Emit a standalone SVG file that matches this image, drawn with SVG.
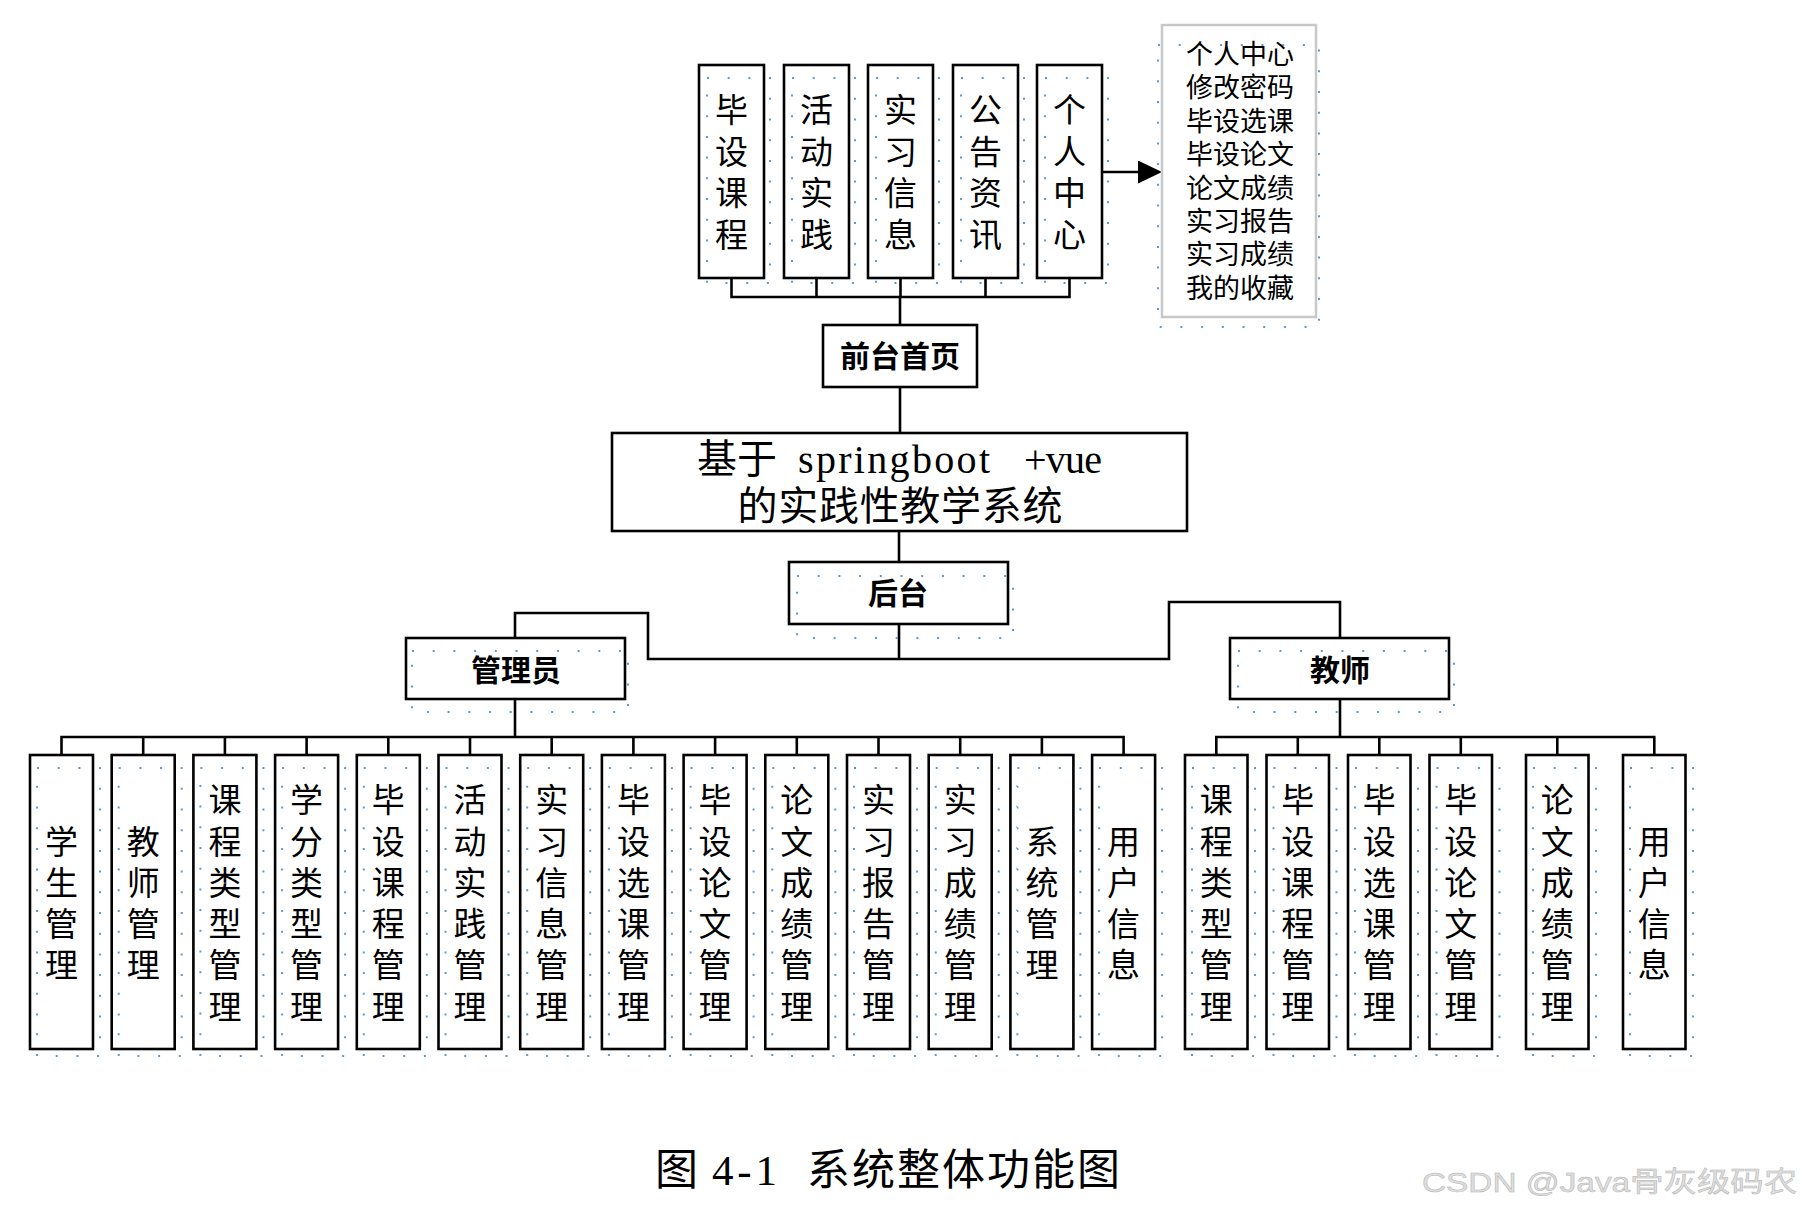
<svg xmlns="http://www.w3.org/2000/svg" width="1802" height="1220" viewBox="0 0 1802 1220">
<style>
.box{fill:#fff;stroke:#000;stroke-width:2.6}
.gbox{fill:#fff;stroke:#c8c8c8;stroke-width:2.5}
.dots{fill:none;stroke:#5b9bd5;stroke-width:2;stroke-dasharray:2 18.7}
.ln{fill:none;stroke:#000;stroke-width:2.6}
.v{font-family:"Liberation Sans","Noto Sans CJK SC",sans-serif;font-size:33px;fill:#000;text-anchor:middle;dominant-baseline:central}
.lst{font-family:"Liberation Sans","Noto Sans CJK SC",sans-serif;font-size:27px;fill:#000;text-anchor:middle;dominant-baseline:central}
.b{font-family:"Liberation Sans","Noto Sans CJK SC",sans-serif;font-size:30px;font-weight:bold;fill:#000;text-anchor:middle;dominant-baseline:central}
.main{font-family:"Liberation Serif","Noto Sans CJK SC",serif;font-size:40px;fill:#000}
.cap{font-family:"Liberation Serif","Noto Sans CJK SC",serif;font-size:43px;fill:#000;dominant-baseline:central}
.wm{font-family:"Liberation Sans","Noto Sans CJK SC",sans-serif;font-size:28px;fill:#dedede;stroke:#b4b4b4;stroke-width:0.5;dominant-baseline:central}
</style>
<defs>
<marker id="arr" viewBox="0 0 24 23" refX="0" refY="11.5" markerWidth="24" markerHeight="23" markerUnits="userSpaceOnUse" orient="auto">
<path d="M0,0 L24,11.5 L0,23 Z" fill="#000"/>
</marker>
</defs>
<rect width="1802" height="1220" fill="#fff"/>

<g id="connectors">
<path class="ln" d="M731.5,278V297M816.5,278V297M900.5,278V297M985.5,278V297M1069.5,278V297M730.2,297H1070.8"/>
<path class="ln" d="M900,297V325M900,387V433M899,531V562M899,624V659"/>
<path class="ln" d="M515,638V613H648V659H1169V602H1340V638"/>
<path class="ln" d="M515,699V737M1340,699V737"/>
<path class="ln" d="M60.2,737H1124.9M61.5,737V755M143.2,737V755M224.9,737V755M306.6,737V755M388.3,737V755M470,737V755M551.7,737V755M633.4,737V755M715.1,737V755M796.8,737V755M878.5,737V755M960.2,737V755M1041.9,737V755M1123.6,737V755"/>
<path class="ln" d="M1215,737H1655.5M1216.3,737V755M1297.8,737V755M1379.3,737V755M1460.8,737V755M1557.3,737V755M1654.3,737V755"/>
<line class="ln" x1="1102" y1="172" x2="1138" y2="172" marker-end="url(#arr)"/>
</g>

<g id="top-1"><rect class="box" x="699" y="65" width="65" height="213"/><rect class="dots" x="707" y="78" width="63" height="205"/>
<text class="v"><tspan x="731.5" y="110">毕</tspan><tspan x="731.5" y="152">设</tspan><tspan x="731.5" y="193">课</tspan><tspan x="731.5" y="235">程</tspan></text></g>
<g id="top-2"><rect class="box" x="784" y="65" width="65" height="213"/><rect class="dots" x="792" y="78" width="63" height="205"/>
<text class="v"><tspan x="816.5" y="110">活</tspan><tspan x="816.5" y="152">动</tspan><tspan x="816.5" y="193">实</tspan><tspan x="816.5" y="235">践</tspan></text></g>
<g id="top-3"><rect class="box" x="868" y="65" width="65" height="213"/><rect class="dots" x="876" y="78" width="63" height="205"/>
<text class="v"><tspan x="900.5" y="110">实</tspan><tspan x="900.5" y="152">习</tspan><tspan x="900.5" y="193">信</tspan><tspan x="900.5" y="235">息</tspan></text></g>
<g id="top-4"><rect class="box" x="953" y="65" width="65" height="213"/><rect class="dots" x="961" y="78" width="63" height="205"/>
<text class="v"><tspan x="985.5" y="110">公</tspan><tspan x="985.5" y="152">告</tspan><tspan x="985.5" y="193">资</tspan><tspan x="985.5" y="235">讯</tspan></text></g>
<g id="top-5"><rect class="box" x="1037" y="65" width="65" height="213"/><rect class="dots" x="1045" y="78" width="63" height="205"/>
<text class="v"><tspan x="1069.5" y="110">个</tspan><tspan x="1069.5" y="152">人</tspan><tspan x="1069.5" y="193">中</tspan><tspan x="1069.5" y="235">心</tspan></text></g>

<g id="personal-list"><rect class="gbox" x="1162" y="25" width="154" height="292"/><rect class="dots" x="1158" y="45" width="161" height="282"/>
<text class="lst"><tspan x="1240" y="55">个人中心</tspan><tspan x="1240" y="88.4">修改密码</tspan><tspan x="1240" y="121.8">毕设选课</tspan><tspan x="1240" y="155.2">毕设论文</tspan><tspan x="1240" y="188.6">论文成绩</tspan><tspan x="1240" y="222">实习报告</tspan><tspan x="1240" y="255.4">实习成绩</tspan><tspan x="1240" y="288.8">我的收藏</tspan></text></g>

<g id="front-home"><rect class="box" x="823" y="325" width="154" height="62"/><text class="b" x="900" y="356">前台首页</text></g>

<g id="system"><rect class="box" x="612" y="433" width="575" height="98"/>
<text class="main" y="473"><tspan x="697">基于</tspan><tspan x="798" textLength="192" lengthAdjust="spacing">springboot</tspan><tspan x="1024" textLength="78" lengthAdjust="spacing">+vue</tspan></text>
<text class="main" x="900" y="520" text-anchor="middle" textLength="325" lengthAdjust="spacing">的实践性教学系统</text></g>

<g id="backend"><rect class="box" x="789" y="562" width="219" height="62"/><rect class="dots" x="797" y="576" width="216" height="62"/><text class="b" x="898" y="593">后台</text></g>
<g id="admin"><rect class="box" x="406" y="638" width="219" height="61"/><rect class="dots" x="412" y="651" width="216" height="61"/><text class="b" x="516" y="670">管理员</text></g>
<g id="teacher"><rect class="box" x="1230" y="638" width="219" height="61"/><rect class="dots" x="1238" y="651" width="216" height="61"/><text class="b" x="1340" y="670">教师</text></g>

<g id="a1"><rect class="box" x="30" y="755" width="63" height="294"/><rect class="dots" x="37" y="768" width="63" height="288"/>
<text class="v"><tspan x="61.5" y="842">学</tspan><tspan x="61.5" y="883">生</tspan><tspan x="61.5" y="924">管</tspan><tspan x="61.5" y="965">理</tspan></text></g>
<g id="a2"><rect class="box" x="111.7" y="755" width="63" height="294"/><rect class="dots" x="118.7" y="768" width="63" height="288"/>
<text class="v"><tspan x="143.2" y="842">教</tspan><tspan x="143.2" y="883">师</tspan><tspan x="143.2" y="924">管</tspan><tspan x="143.2" y="965">理</tspan></text></g>
<g id="a3"><rect class="box" x="193.4" y="755" width="63" height="294"/><rect class="dots" x="200.4" y="768" width="63" height="288"/>
<text class="v"><tspan x="224.9" y="800">课</tspan><tspan x="224.9" y="842">程</tspan><tspan x="224.9" y="883">类</tspan><tspan x="224.9" y="924">型</tspan><tspan x="224.9" y="965">管</tspan><tspan x="224.9" y="1007">理</tspan></text></g>
<g id="a4"><rect class="box" x="275.1" y="755" width="63" height="294"/><rect class="dots" x="282.1" y="768" width="63" height="288"/>
<text class="v"><tspan x="306.6" y="800">学</tspan><tspan x="306.6" y="842">分</tspan><tspan x="306.6" y="883">类</tspan><tspan x="306.6" y="924">型</tspan><tspan x="306.6" y="965">管</tspan><tspan x="306.6" y="1007">理</tspan></text></g>
<g id="a5"><rect class="box" x="356.8" y="755" width="63" height="294"/><rect class="dots" x="363.8" y="768" width="63" height="288"/>
<text class="v"><tspan x="388.3" y="800">毕</tspan><tspan x="388.3" y="842">设</tspan><tspan x="388.3" y="883">课</tspan><tspan x="388.3" y="924">程</tspan><tspan x="388.3" y="965">管</tspan><tspan x="388.3" y="1007">理</tspan></text></g>
<g id="a6"><rect class="box" x="438.5" y="755" width="63" height="294"/><rect class="dots" x="445.5" y="768" width="63" height="288"/>
<text class="v"><tspan x="470" y="800">活</tspan><tspan x="470" y="842">动</tspan><tspan x="470" y="883">实</tspan><tspan x="470" y="924">践</tspan><tspan x="470" y="965">管</tspan><tspan x="470" y="1007">理</tspan></text></g>
<g id="a7"><rect class="box" x="520.2" y="755" width="63" height="294"/><rect class="dots" x="527.2" y="768" width="63" height="288"/>
<text class="v"><tspan x="551.7" y="800">实</tspan><tspan x="551.7" y="842">习</tspan><tspan x="551.7" y="883">信</tspan><tspan x="551.7" y="924">息</tspan><tspan x="551.7" y="965">管</tspan><tspan x="551.7" y="1007">理</tspan></text></g>
<g id="a8"><rect class="box" x="601.9" y="755" width="63" height="294"/><rect class="dots" x="608.9" y="768" width="63" height="288"/>
<text class="v"><tspan x="633.4" y="800">毕</tspan><tspan x="633.4" y="842">设</tspan><tspan x="633.4" y="883">选</tspan><tspan x="633.4" y="924">课</tspan><tspan x="633.4" y="965">管</tspan><tspan x="633.4" y="1007">理</tspan></text></g>
<g id="a9"><rect class="box" x="683.6" y="755" width="63" height="294"/><rect class="dots" x="690.6" y="768" width="63" height="288"/>
<text class="v"><tspan x="715.1" y="800">毕</tspan><tspan x="715.1" y="842">设</tspan><tspan x="715.1" y="883">论</tspan><tspan x="715.1" y="924">文</tspan><tspan x="715.1" y="965">管</tspan><tspan x="715.1" y="1007">理</tspan></text></g>
<g id="a10"><rect class="box" x="765.3" y="755" width="63" height="294"/><rect class="dots" x="772.3" y="768" width="63" height="288"/>
<text class="v"><tspan x="796.8" y="800">论</tspan><tspan x="796.8" y="842">文</tspan><tspan x="796.8" y="883">成</tspan><tspan x="796.8" y="924">绩</tspan><tspan x="796.8" y="965">管</tspan><tspan x="796.8" y="1007">理</tspan></text></g>
<g id="a11"><rect class="box" x="847" y="755" width="63" height="294"/><rect class="dots" x="854" y="768" width="63" height="288"/>
<text class="v"><tspan x="878.5" y="800">实</tspan><tspan x="878.5" y="842">习</tspan><tspan x="878.5" y="883">报</tspan><tspan x="878.5" y="924">告</tspan><tspan x="878.5" y="965">管</tspan><tspan x="878.5" y="1007">理</tspan></text></g>
<g id="a12"><rect class="box" x="928.7" y="755" width="63" height="294"/><rect class="dots" x="935.7" y="768" width="63" height="288"/>
<text class="v"><tspan x="960.2" y="800">实</tspan><tspan x="960.2" y="842">习</tspan><tspan x="960.2" y="883">成</tspan><tspan x="960.2" y="924">绩</tspan><tspan x="960.2" y="965">管</tspan><tspan x="960.2" y="1007">理</tspan></text></g>
<g id="a13"><rect class="box" x="1010.4" y="755" width="63" height="294"/><rect class="dots" x="1017.4" y="768" width="63" height="288"/>
<text class="v"><tspan x="1041.9" y="842">系</tspan><tspan x="1041.9" y="883">统</tspan><tspan x="1041.9" y="924">管</tspan><tspan x="1041.9" y="965">理</tspan></text></g>
<g id="a14"><rect class="box" x="1092.1" y="755" width="63" height="294"/><rect class="dots" x="1099.1" y="768" width="63" height="288"/>
<text class="v"><tspan x="1123.6" y="842">用</tspan><tspan x="1123.6" y="883">户</tspan><tspan x="1123.6" y="924">信</tspan><tspan x="1123.6" y="965">息</tspan></text></g>

<g id="t1"><rect class="box" x="1185" y="755" width="62.5" height="294"/><rect class="dots" x="1192" y="768" width="63" height="288"/>
<text class="v"><tspan x="1216.3" y="800">课</tspan><tspan x="1216.3" y="842">程</tspan><tspan x="1216.3" y="883">类</tspan><tspan x="1216.3" y="924">型</tspan><tspan x="1216.3" y="965">管</tspan><tspan x="1216.3" y="1007">理</tspan></text></g>
<g id="t2"><rect class="box" x="1266.5" y="755" width="62.5" height="294"/><rect class="dots" x="1273.5" y="768" width="63" height="288"/>
<text class="v"><tspan x="1297.8" y="800">毕</tspan><tspan x="1297.8" y="842">设</tspan><tspan x="1297.8" y="883">课</tspan><tspan x="1297.8" y="924">程</tspan><tspan x="1297.8" y="965">管</tspan><tspan x="1297.8" y="1007">理</tspan></text></g>
<g id="t3"><rect class="box" x="1348" y="755" width="62.5" height="294"/><rect class="dots" x="1355" y="768" width="63" height="288"/>
<text class="v"><tspan x="1379.3" y="800">毕</tspan><tspan x="1379.3" y="842">设</tspan><tspan x="1379.3" y="883">选</tspan><tspan x="1379.3" y="924">课</tspan><tspan x="1379.3" y="965">管</tspan><tspan x="1379.3" y="1007">理</tspan></text></g>
<g id="t4"><rect class="box" x="1429.5" y="755" width="62.5" height="294"/><rect class="dots" x="1436.5" y="768" width="63" height="288"/>
<text class="v"><tspan x="1460.8" y="800">毕</tspan><tspan x="1460.8" y="842">设</tspan><tspan x="1460.8" y="883">论</tspan><tspan x="1460.8" y="924">文</tspan><tspan x="1460.8" y="965">管</tspan><tspan x="1460.8" y="1007">理</tspan></text></g>
<g id="t5"><rect class="box" x="1526" y="755" width="62.5" height="294"/><rect class="dots" x="1533" y="768" width="63" height="288"/>
<text class="v"><tspan x="1557.3" y="800">论</tspan><tspan x="1557.3" y="842">文</tspan><tspan x="1557.3" y="883">成</tspan><tspan x="1557.3" y="924">绩</tspan><tspan x="1557.3" y="965">管</tspan><tspan x="1557.3" y="1007">理</tspan></text></g>
<g id="t6"><rect class="box" x="1623" y="755" width="62.5" height="294"/><rect class="dots" x="1630" y="768" width="63" height="288"/>
<text class="v"><tspan x="1654.3" y="842">用</tspan><tspan x="1654.3" y="883">户</tspan><tspan x="1654.3" y="924">信</tspan><tspan x="1654.3" y="965">息</tspan></text></g>

<g id="caption"><text class="cap" y="1170"><tspan x="655">图</tspan><tspan x="712" textLength="65" lengthAdjust="spacing">4-1</tspan><tspan x="807" textLength="313" lengthAdjust="spacing">系统整体功能图</tspan></text></g>
<g id="watermark"><text class="wm" x="1422" y="1182" textLength="375" lengthAdjust="spacingAndGlyphs">CSDN @Java骨灰级码农</text></g>
</svg>
